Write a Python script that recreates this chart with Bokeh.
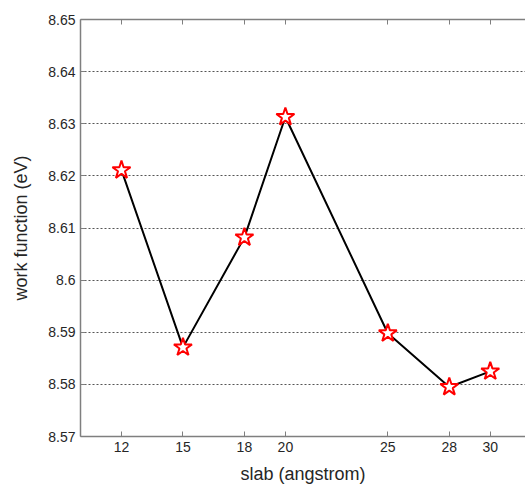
from bokeh.plotting import figure
from bokeh.models import FixedTicker, LinearAxis, Range1d, ColumnDataSource
from bokeh.embed import file_html
from bokeh.resources import INLINE

slab = [12, 15, 18, 20, 25, 28, 30]
work_function = [8.6211, 8.5871, 8.6082, 8.6313, 8.5898, 8.5795, 8.5825]
x_ticks = [12, 15, 18, 20, 25, 28, 30]
y_ticks = [8.57, 8.58, 8.59, 8.60, 8.61, 8.62, 8.63, 8.64, 8.65]
y_labels = ["8.57", "8.58", "8.59", "8.6", "8.61", "8.62", "8.63", "8.64", "8.65"]

FONT = "Liberation Sans"
AXIS_COL = "#7f7f7f"
TEXT_COL = "#262626"

p = figure(width=525, height=489, output_backend="svg", toolbar_location=None,
           x_range=Range1d(10, 31.72), y_range=Range1d(8.57, 8.65),
           min_border_left=80, min_border_right=0, min_border_top=19, min_border_bottom=53)
p.outline_line_color = None
p.background_fill_color = "white"

src = ColumnDataSource(dict(x=slab, y=work_function))
p.line("x", "y", source=src, line_color="black", line_width=2)
p.scatter("x", "y", source=src, marker="star", size=19, fill_color="white",
          line_color="red", line_width=2)

p.xaxis.ticker = FixedTicker(ticks=x_ticks)
p.yaxis.ticker = FixedTicker(ticks=y_ticks)
p.yaxis.major_label_overrides = {t: l for t, l in zip(y_ticks, y_labels)}

for ax in [p.xaxis[0], p.yaxis[0]]:
    ax.axis_line_color = AXIS_COL
    ax.axis_line_width = 1.5
    ax.major_tick_line_color = AXIS_COL
    ax.major_tick_in = 5
    ax.major_tick_out = 0
    ax.minor_tick_line_color = None
    ax.major_label_text_font = FONT
    ax.major_label_text_font_size = "14px"
    ax.major_label_text_color = TEXT_COL
    ax.axis_label_text_font = FONT
    ax.axis_label_text_font_size = "18px"
    ax.axis_label_text_font_style = "normal"
    ax.axis_label_text_color = TEXT_COL

p.xaxis.axis_label = "slab (angstrom)"
p.yaxis.axis_label = "work function (eV)"
p.xaxis.major_label_standoff = 5
p.xaxis.axis_label_standoff = 9
p.yaxis.major_label_standoff = 5
p.yaxis.axis_label_standoff = 14

top = LinearAxis(ticker=FixedTicker(ticks=x_ticks))
top.axis_line_color = AXIS_COL
top.axis_line_width = 1.5
top.major_tick_line_color = AXIS_COL
top.major_tick_in = 5
top.major_tick_out = 0
top.minor_tick_line_color = None
top.major_label_overrides = {t: "" for t in x_ticks}
top.major_label_standoff = 0
p.add_layout(top, "above")

p.xgrid.visible = False
p.ygrid.ticker = FixedTicker(ticks=y_ticks[1:-1])
p.ygrid.grid_line_color = "#555555"
p.ygrid.grid_line_dash = "2 2"
p.ygrid.grid_line_width = 1

open("out.html", "w").write(file_html(p, INLINE))
